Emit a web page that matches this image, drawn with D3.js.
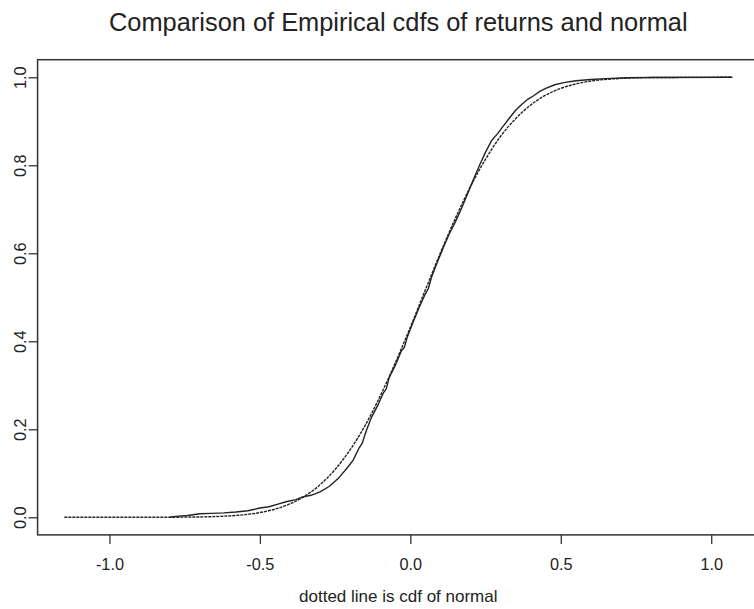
<!DOCTYPE html>
<html>
<head>
<meta charset="utf-8">
<script src="https://cdn.jsdelivr.net/npm/d3@7"></script>
<style>
  body { margin: 0; background: #fff; }
  svg { display: block; font-family: "Liberation Sans", Arial, sans-serif; }
</style>
</head>
<body>
<div id="root"></div>
<script>
const normX = [-1.15, -0.8, -0.7, -0.6, -0.55, -0.5, -0.45, -0.4, -0.35, -0.3, -0.25, -0.2,
  -0.15, -0.1, -0.05, 0, 0.05, 0.1, 0.15, 0.2, 0.25, 0.3, 0.35, 0.4, 0.45, 0.5, 0.55, 0.6,
  0.7, 0.8, 1.07];
const normF = [0, 0.0002, 0.0008, 0.0033, 0.006, 0.0107, 0.0185, 0.0306, 0.0485, 0.074, 0.1086,
  0.1536, 0.209, 0.276, 0.351, 0.432, 0.517, 0.601, 0.68, 0.752, 0.814, 0.866, 0.906, 0.937,
  0.9595, 0.9748, 0.985, 0.9914, 0.9975, 0.9994, 1];

// empirical cdf of returns (jagged curve)
const empX = [-0.8, -0.78, -0.74, -0.7, -0.66, -0.62, -0.58, -0.54, -0.5, -0.47, -0.44, -0.41,
  -0.38, -0.36, -0.33, -0.3, -0.27, -0.24, -0.21, -0.19, -0.17, -0.16, -0.15, -0.13, -0.11,
  -0.09, -0.08, -0.07, -0.05, -0.03, -0.02, -0.01, 0.01, 0.03, 0.05, 0.06, 0.07, 0.09, 0.11,
  0.13, 0.15, 0.17, 0.19, 0.21, 0.23, 0.25, 0.27, 0.29, 0.31, 0.33, 0.35, 0.37, 0.39, 0.41,
  0.43, 0.45, 0.48, 0.51, 0.55, 0.6, 0.65, 0.72, 0.8, 1.07];
const empF = [0, 0.002, 0.004, 0.008, 0.009, 0.01, 0.012, 0.015, 0.021, 0.024, 0.03, 0.036,
  0.04, 0.046, 0.05, 0.058, 0.07, 0.088, 0.112, 0.13, 0.158, 0.168, 0.19, 0.226, 0.252, 0.282,
  0.292, 0.318, 0.345, 0.378, 0.386, 0.41, 0.445, 0.478, 0.508, 0.52, 0.545, 0.58, 0.614,
  0.645, 0.672, 0.702, 0.735, 0.768, 0.8, 0.83, 0.856, 0.872, 0.89, 0.908, 0.925, 0.938, 0.95,
  0.958, 0.968, 0.975, 0.983, 0.988, 0.992, 0.995, 0.997, 0.999, 0.9995, 1];

const xTicks = [-1.0, -0.5, 0.0, 0.5, 1.0];
const yTicks = [0.0, 0.2, 0.4, 0.6, 0.8, 1.0];

const width = 754;
const height = 609;
const plot = { left: 37.6, right: 759, top: 59.7, bottom: 534.9 };
const ink = "#222";

const xScale = d3.scaleLinear().domain([-1.2388, 1.1588]).range([plot.left, plot.right]);
const yScale = d3.scaleLinear().domain([-0.04, 1.04]).range([plot.bottom, plot.top]);

const svg = d3.select("#root")
  .append("svg")
  .attr("width", width)
  .attr("height", height)
  .attr("viewBox", `0 0 ${width} ${height}`);

// box
svg.append("rect")
  .attr("x", plot.left)
  .attr("y", plot.top)
  .attr("width", plot.right - plot.left)
  .attr("height", plot.bottom - plot.top)
  .attr("fill", "none")
  .attr("stroke", "#333")
  .attr("stroke-width", 1.5);

const line = d3.line()
  .x((d) => xScale(d[0]))
  .y((d) => yScale(d[1]));

svg.append("path")
  .datum(d3.zip(normX, normF))
  .attr("d", line.curve(d3.curveMonotoneX))
  .attr("fill", "none")
  .attr("stroke", ink)
  .attr("stroke-width", 1.4)
  .attr("stroke-dasharray", "3,1");

svg.append("path")
  .datum(d3.zip(empX, empF))
  .attr("d", line.curve(d3.curveLinear))
  .attr("fill", "none")
  .attr("stroke", ink)
  .attr("stroke-width", 1.4);

// axes
const fmt = (d) => d.toFixed(1);

const bottomAxis = d3.axisBottom(xScale)
  .tickValues(xTicks)
  .tickFormat(fmt)
  .tickSize(9)
  .tickPadding(14.5);
const gx = svg.append("g")
  .attr("transform", `translate(0, ${plot.bottom})`)
  .call(bottomAxis);
gx.select(".domain").remove();
gx.selectAll("line").attr("stroke", "#333").attr("stroke-width", 1.3);
gx.selectAll("text")
  .attr("fill", ink)
  .style("font-size", "16.3px")
  .style("font-family", "'Liberation Sans', Arial, sans-serif");

const leftAxis = d3.axisLeft(yScale)
  .tickValues(yTicks)
  .tickFormat(fmt)
  .tickSize(9);
const gy = svg.append("g")
  .attr("transform", `translate(${plot.left}, 0)`)
  .call(leftAxis);
gy.select(".domain").remove();
gy.selectAll("line").attr("stroke", "#333").attr("stroke-width", 1.3);
gy.selectAll("text")
  .attr("fill", ink)
  .attr("transform", "rotate(-90)")
  .attr("x", 0)
  .attr("y", -11.5)
  .attr("dy", 0)
  .attr("text-anchor", "middle")
  .style("font-size", "16.3px")
  .style("font-family", "'Liberation Sans', Arial, sans-serif");

// titles
const centerX = (plot.left + plot.right) / 2;
svg.append("text")
  .text("Comparison of Empirical cdfs of returns and normal")
  .attr("x", centerX)
  .attr("y", 31)
  .attr("text-anchor", "middle")
  .attr("fill", ink)
  .style("font-size", "25.4px");

svg.append("text")
  .text("dotted line is cdf of normal")
  .attr("x", centerX)
  .attr("y", 602)
  .attr("text-anchor", "middle")
  .attr("fill", ink)
  .style("font-size", "17px");
</script>
</body>
</html>
